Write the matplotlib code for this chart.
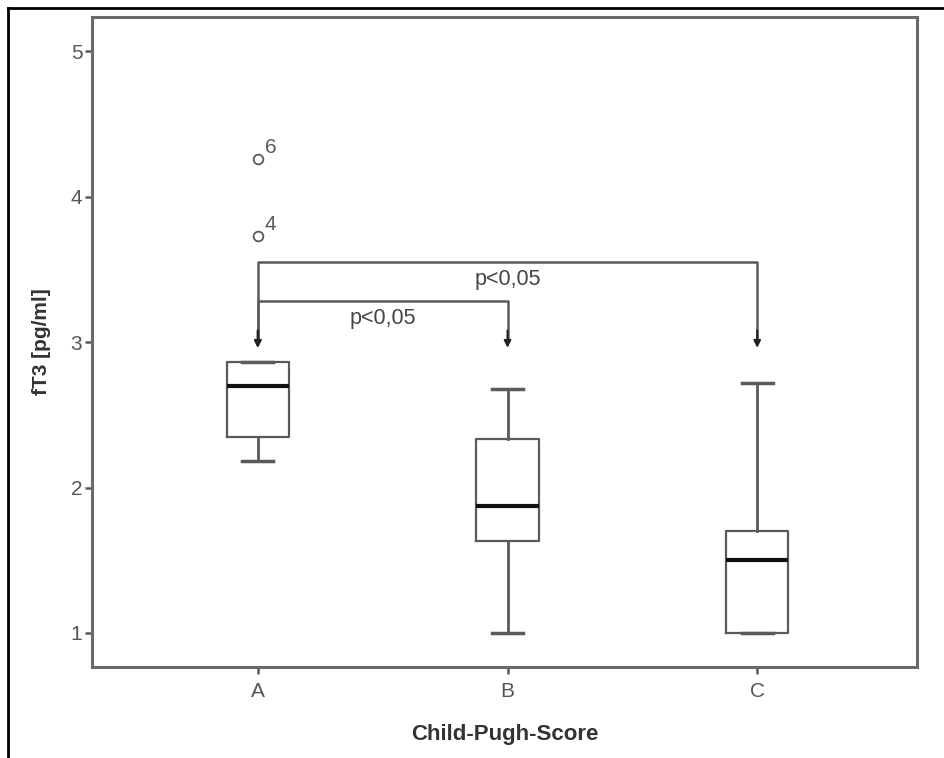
import matplotlib
matplotlib.use('Agg')
import matplotlib.pyplot as plt

plt.rcParams['font.family'] = ['Liberation Sans Narrow', 'Liberation Sans', 'DejaVu Sans']

groups = ['A', 'B', 'C']
q1 = [2.35, 1.63, 1.00]
median = [2.70, 1.87, 1.50]
q3 = [2.86, 2.33, 1.70]
whislo = [2.18, 1.00, 1.00]
whishi = [2.86, 2.68, 2.72]
outliers = [[4.26, 3.73], [], []]
outlier_ids = [['6', '4'], [], []]

# significance brackets: (from group, to group, bracket height, label)
brackets = [(0, 2, 3.55, 'p<0,05'), (0, 1, 3.28, 'p<0,05')]
arrow_tip = 2.96

gray = '#5a5a5a'

fig = plt.figure(figsize=(9.45, 7.58), dpi=100)
ax = fig.add_axes([0.0974, 0.120, 0.873, 0.8576])

stats = []
for i, g in enumerate(groups):
    stats.append({'label': g, 'q1': q1[i], 'med': median[i], 'q3': q3[i],
                  'whislo': whislo[i], 'whishi': whishi[i], 'fliers': outliers[i]})

pos = list(range(1, len(groups) + 1))
ax.bxp(stats, positions=pos, widths=0.25, showfliers=True,
       boxprops=dict(color=gray, linewidth=1.6),
       whiskerprops=dict(color=gray, linewidth=2),
       capprops=dict(color=gray, linewidth=2.5),
       medianprops=dict(color='#111111', linewidth=3),
       flierprops=dict(marker='o', markerfacecolor='none', markeredgecolor=gray,
                       markersize=7, markeredgewidth=1.3))

for i, (vals, ids) in enumerate(zip(outliers, outlier_ids)):
    for v, t in zip(vals, ids):
        ax.annotate(t, (pos[i], v), xytext=(5, 4), textcoords='offset points',
                    fontsize=15, color=gray)

for a, b, h, lab in brackets:
    xa, xb = pos[a], pos[b]
    ax.plot([xa, xa, xb, xb], [arrow_tip + 0.05, h, h, arrow_tip + 0.05], color=gray, lw=1.8)
    for xx in (xa, xb):
        ax.annotate('', xy=(xx, arrow_tip), xytext=(xx, arrow_tip + 0.12),
                    arrowprops=dict(arrowstyle='-|>', color='#222222', lw=1.5,
                                    mutation_scale=10, shrinkA=0, shrinkB=0))
    ax.text((xa + xb) / 2, h - 0.12, lab, ha='center', va='center', fontsize=15.5, color='#444444')

ax.set_xlim(0.336, 3.64)
ax.set_ylim(0.766, 5.234)
ax.set_yticks([1, 2, 3, 4, 5])
ax.set_xticks(pos)
ax.set_xticklabels(groups)
ax.tick_params(colors=gray, labelsize=15, width=1.8, length=5, pad=2, labelcolor='#555555')
ax.tick_params(axis='x', pad=6)
for s in ax.spines.values():
    s.set_color('#6a6a6a')
    s.set_linewidth(2.2)

ax.set_ylabel('fT3 [pg/ml]', fontsize=15, fontweight='bold', color='#333333', labelpad=14)
ax.set_xlabel('Child-Pugh-Score', fontsize=16, fontweight='bold', color='#333333', labelpad=16)

# outer frame lines (top and left)
fig.add_artist(plt.Line2D([8 / 945, 1.0], [1 - 8 / 758, 1 - 8 / 758], color='black', lw=2))
fig.add_artist(plt.Line2D([8 / 945, 8 / 945], [0, 1 - 8 / 758], color='black', lw=2))

fig.savefig('out.png', dpi=100)
